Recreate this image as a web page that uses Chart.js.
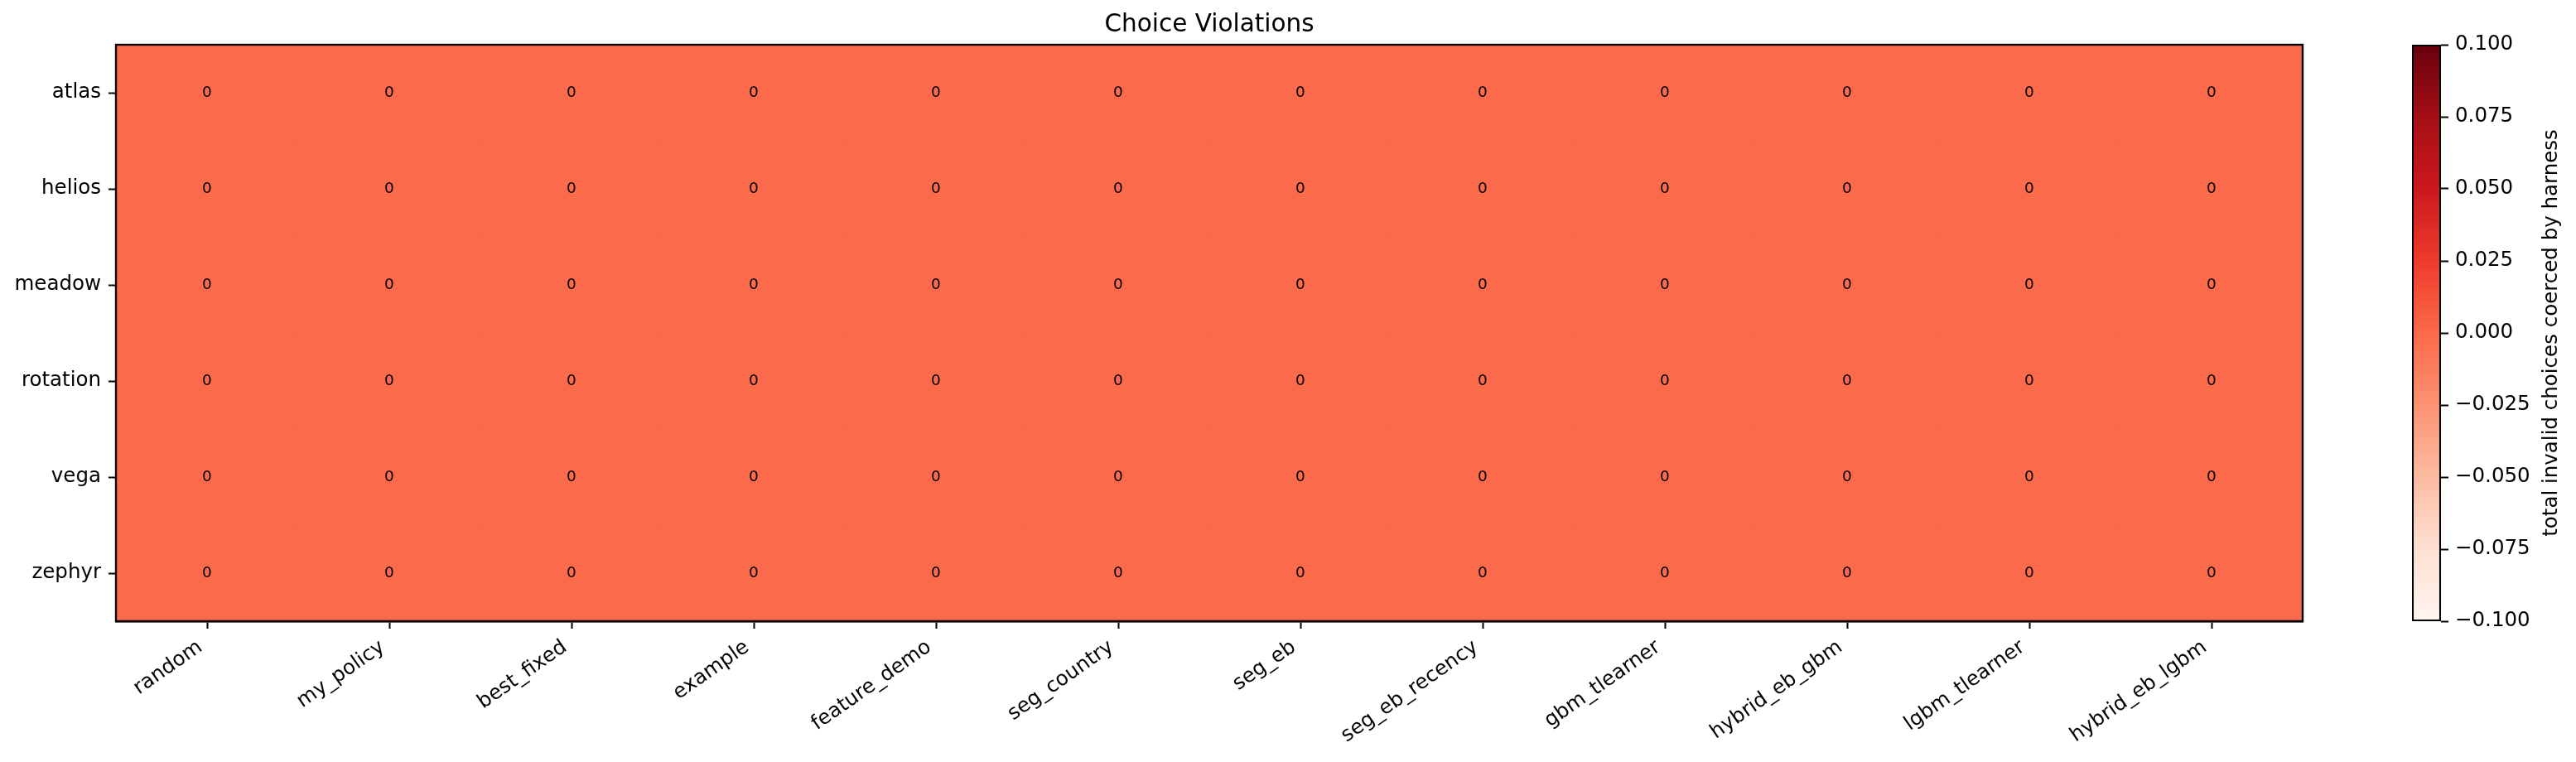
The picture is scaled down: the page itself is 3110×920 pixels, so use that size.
<!DOCTYPE html>
<html>
<head>
<meta charset="utf-8">
<script src="https://cdn.jsdelivr.net/npm/chart.js@4.4.0/dist/chart.umd.min.js"></script>
<style>
  html, body { margin: 0; padding: 0; background: #fff; }
  #wrap { position: relative; width: 3110px; height: 920px; }
  #main { position: absolute; left: 0; top: 0; width: 2860px; height: 920px; }
  #cbar { position: absolute; left: 2880px; top: 0; width: 230px; height: 920px; }
</style>
</head>
<body>
<div id="wrap">
  <canvas id="main" width="2860" height="920"></canvas>
  <canvas id="cbar" width="230" height="920"></canvas>
</div>
<script>
const methods = ['random', 'my_policy', 'best_fixed', 'example', 'feature_demo', 'seg_country',
  'seg_eb', 'seg_eb_recency', 'gbm_tlearner', 'hybrid_eb_gbm', 'lgbm_tlearner', 'hybrid_eb_lgbm'];
const harnesses = ['atlas', 'helios', 'meadow', 'rotation', 'vega', 'zephyr'];

// invalid choices per harness, one value per method
const atlas    = [0, 0, 0, 0, 0, 0, 0, 0, 0, 0, 0, 0];
const helios   = [0, 0, 0, 0, 0, 0, 0, 0, 0, 0, 0, 0];
const meadow   = [0, 0, 0, 0, 0, 0, 0, 0, 0, 0, 0, 0];
const rotation = [0, 0, 0, 0, 0, 0, 0, 0, 0, 0, 0, 0];
const vega     = [0, 0, 0, 0, 0, 0, 0, 0, 0, 0, 0, 0];
const zephyr   = [0, 0, 0, 0, 0, 0, 0, 0, 0, 0, 0, 0];
const violations = [atlas, helios, meadow, rotation, vega, zephyr];

const colorMin = -0.1;
const colorMax = 0.1;
const colorTicks = [-0.1, -0.075, -0.05, -0.025, 0, 0.025, 0.05, 0.075, 0.1];

// matplotlib "Reds"
const reds = ['#fff5f0', '#fee0d2', '#fcbba1', '#fc9272', '#fb6a4a', '#ef3b2c', '#cb181d', '#a50f15', '#67000d'];

const FONT = 'DejaVu Sans';

function hexToRgb(h) {
    return [parseInt(h.slice(1, 3), 16), parseInt(h.slice(3, 5), 16), parseInt(h.slice(5, 7), 16)];
}

function cmap(v) {
    let t = (v - colorMin) / (colorMax - colorMin);
    t = Math.max(0, Math.min(1, t));
    const pos = t * (reds.length - 1);
    const i = Math.min(Math.floor(pos), reds.length - 2);
    const f = pos - i;
    const a = hexToRgb(reds[i]), b = hexToRgb(reds[i + 1]);
    const c = a.map((x, k) => Math.round(x + (b[k] - x) * f));
    return `rgb(${c[0]}, ${c[1]}, ${c[2]})`;
}

function fmtTick(v) {
    return (Math.abs(v) < 1e-12 ? 0 : v).toFixed(3).replace('-', '\u2212');
}

const tickGrid = { display: true, drawOnChartArea: false, tickLength: 9, tickWidth: 2, tickColor: '#000' };

const cellLabels = {
    id: 'cellLabels',
    afterDatasetsDraw(chart) {
        const ctx = chart.ctx;
        ctx.save();
        ctx.font = `18.5px "${FONT}"`;
        ctx.fillStyle = '#000';
        ctx.textAlign = 'center';
        ctx.textBaseline = 'middle';
        chart.data.datasets.forEach((ds, r) => {
            chart.getDatasetMeta(r).data.forEach((el, j) => {
                const p = el.getCenterPoint();
                ctx.fillText(String(violations[r][j]), p.x, p.y);
            });
        });
        ctx.restore();
    }
};

const frame = {
    id: 'frame',
    afterDraw(chart) {
        const a = chart.chartArea;
        const ctx = chart.ctx;
        ctx.save();
        ctx.strokeStyle = '#000';
        ctx.lineWidth = 2.4;
        ctx.strokeRect(a.left, a.top, a.right - a.left, a.bottom - a.top);
        ctx.restore();
    }
};

new Chart(document.getElementById('main'), {
    type: 'bar',
    data: {
        labels: methods,
        datasets: harnesses.map((h, r) => ({
            label: h,
            data: violations[r].map(() => [r, r + 1]),
            backgroundColor: violations[r].map(v => cmap(v)),
            borderWidth: 0,
            grouped: false,
            barPercentage: 1,
            categoryPercentage: 1
        }))
    },
    options: {
        responsive: false,
        animation: false,
        devicePixelRatio: 1,
        layout: { padding: { left: 0, right: 80, top: 0, bottom: 0 } },
        plugins: {
            legend: { display: false },
            tooltip: { enabled: false },
            title: {
                display: true,
                text: 'Choice Violations',
                fullSize: false,
                color: '#000',
                font: { family: FONT, size: 29.5, weight: 'normal', lineHeight: 1.2 },
                padding: { top: 13, bottom: 5.6 }
            }
        },
        scales: {
            x: {
                type: 'category',
                offset: true,
                grid: { ...tickGrid, offset: false },
                border: { display: true, color: '#000', width: 2.4 },
                ticks: {
                    color: '#000',
                    font: { family: FONT, size: 24.5 },
                    minRotation: 35,
                    maxRotation: 35,
                    autoSkip: false,
                    padding: 8,
                    labelOffset: -8
                },
                afterFit: s => { s.height = 170; }
            },
            y: {
                type: 'linear',
                reverse: true,
                min: 0,
                max: harnesses.length,
                afterBuildTicks: s => { s.ticks = harnesses.map((_, i) => ({ value: i + 0.5 })); },
                grid: tickGrid,
                border: { display: true, color: '#000', width: 2.4 },
                ticks: {
                    color: '#000',
                    font: { family: FONT, size: 24.5 },
                    autoSkip: false,
                    padding: 9,
                    callback: v => harnesses[Math.floor(v)]
                },
                afterFit: s => { s.width = 140; }
            }
        }
    },
    plugins: [cellLabels, frame]
});

const cbarLabel = {
    id: 'cbarLabel',
    afterDraw(chart) {
        const a = chart.chartArea;
        const ctx = chart.ctx;
        ctx.save();
        ctx.translate(3087 - 2880, (a.top + a.bottom) / 2);
        ctx.rotate(-Math.PI / 2);
        ctx.font = `24.5px "${FONT}"`;
        ctx.fillStyle = '#000';
        ctx.textAlign = 'center';
        ctx.textBaseline = 'alphabetic';
        ctx.fillText('total invalid choices coerced by harness', 0, 0);
        ctx.restore();
    }
};

new Chart(document.getElementById('cbar'), {
    type: 'bar',
    data: {
        labels: [''],
        datasets: [{
            data: [[colorMin, colorMax]],
            backgroundColor: (c) => {
                const area = c.chart.chartArea;
                if (!area) return reds[4];
                const g = c.chart.ctx.createLinearGradient(0, area.bottom, 0, area.top);
                reds.forEach((col, i) => g.addColorStop(i / (reds.length - 1), col));
                return g;
            },
            borderColor: '#000',
            borderWidth: 2.4,
            borderSkipped: false,
            barPercentage: 1,
            categoryPercentage: 1
        }]
    },
    options: {
        responsive: false,
        animation: false,
        devicePixelRatio: 1,
        layout: { padding: { left: 32, right: 0, top: 54, bottom: 170 } },
        plugins: { legend: { display: false }, tooltip: { enabled: false } },
        scales: {
            x: { display: false },
            y: {
                position: 'right',
                min: colorMin,
                max: colorMax,
                afterBuildTicks: s => { s.ticks = colorTicks.map(v => ({ value: v })); },
                grid: tickGrid,
                border: { display: false },
                ticks: {
                    color: '#000',
                    font: { family: FONT, size: 24.5 },
                    autoSkip: false,
                    padding: 8,
                    callback: v => fmtTick(v)
                },
                afterFit: s => { s.width = 163; }
            }
        }
    },
    plugins: [cbarLabel]
});
</script>
</body>
</html>
